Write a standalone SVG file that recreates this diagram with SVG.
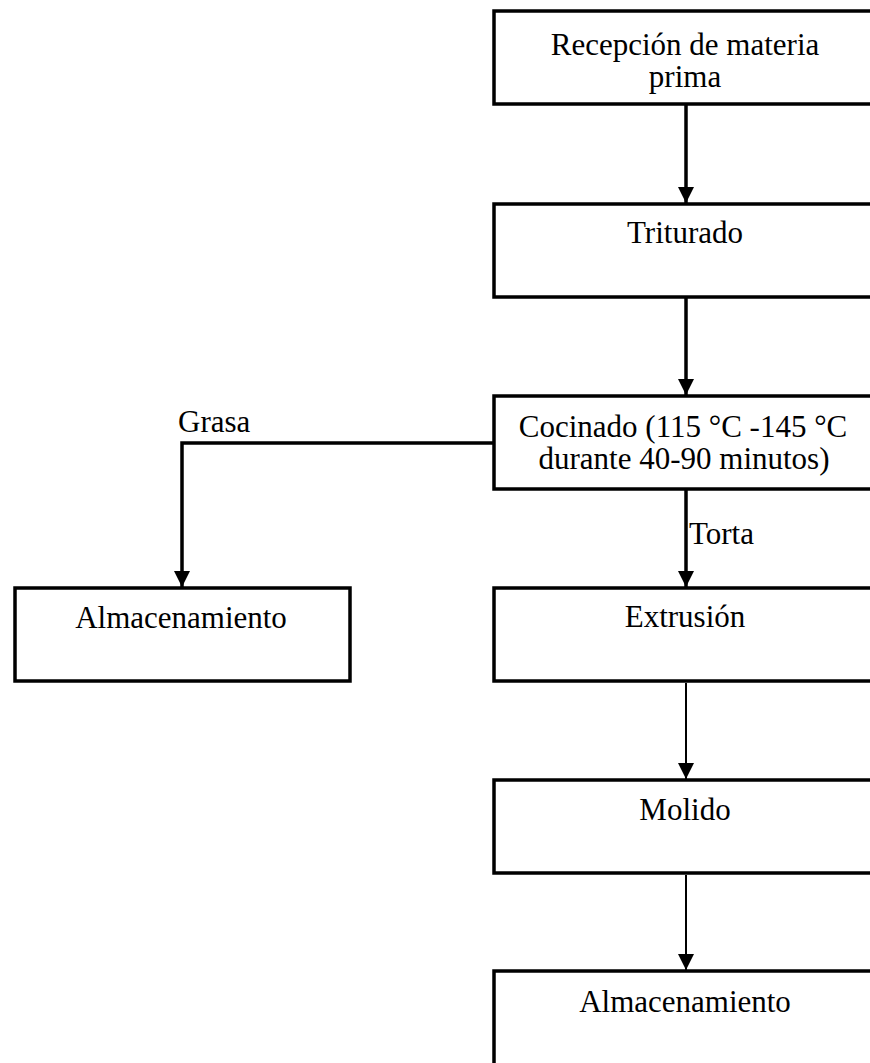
<svg xmlns="http://www.w3.org/2000/svg" width="870" height="1063" viewBox="0 0 870 1063">
<style>
.box{fill:#fff;stroke:#000;stroke-width:3.5}
.t{font-family:"Liberation Serif","Times New Roman",serif;font-size:31px;fill:#000}
.c{text-anchor:middle}
.thick{stroke:#000;stroke-width:3.5;fill:none}
.thin{stroke:#000;stroke-width:2;fill:none}
</style>
<defs>
<marker id="ah" markerUnits="userSpaceOnUse" markerWidth="16" markerHeight="16" viewBox="0 0 16 16" refX="8" refY="16" orient="auto-start-reverse">
<path d="M0,0 L16,0 L8,16 Z" fill="#000" transform="rotate(0)"/>
</marker>
<marker id="ahd" markerUnits="userSpaceOnUse" markerWidth="16" markerHeight="16" viewBox="0 0 16 16" refX="16" refY="8" orient="auto">
<path d="M0,0 L16,8 L0,16 Z" fill="#000"/>
</marker>
</defs>
<g id="connectors">
<line class="thick" x1="686" y1="105" x2="686" y2="203" marker-end="url(#ahd)"/>
<line class="thick" x1="686" y1="298" x2="686" y2="395" marker-end="url(#ahd)"/>
<line class="thick" x1="686" y1="490" x2="686" y2="587" marker-end="url(#ahd)"/>
<polyline class="thick" points="493,443 182,443 182,587" marker-end="url(#ahd)"/>
<line class="thin" x1="686" y1="683" x2="686" y2="779" marker-end="url(#ahd)"/>
<line class="thin" x1="686" y1="875" x2="686" y2="970" marker-end="url(#ahd)"/>
<text class="t" x="178" y="432">Grasa</text>
<text class="t" x="689" y="544">Torta</text>
</g>
<g id="n1"><rect class="box" x="494" y="11" width="390" height="93"/>
<text class="t c" x="685" y="55">Recepción de materia</text>
<text class="t c" x="685" y="87">prima</text></g>
<g id="n2"><rect class="box" x="494" y="204" width="390" height="93"/>
<text class="t c" x="685" y="243">Triturado</text></g>
<g id="n3"><rect class="box" x="494" y="396" width="390" height="93"/>
<text class="t c" x="683" y="437">Cocinado (115 °C -145 °C</text>
<text class="t c" x="684" y="469">durante 40-90 minutos)</text></g>
<g id="n4"><rect class="box" x="494" y="588" width="390" height="93"/>
<text class="t c" x="685" y="627">Extrusión</text></g>
<g id="n5"><rect class="box" x="15" y="588" width="335" height="93"/>
<text class="t c" x="181" y="628">Almacenamiento</text></g>
<g id="n6"><rect class="box" x="494" y="780" width="390" height="93"/>
<text class="t c" x="685" y="820">Molido</text></g>
<g id="n7"><rect class="box" x="494" y="971" width="390" height="120"/>
<text class="t c" x="685" y="1012">Almacenamiento</text></g>
</svg>
